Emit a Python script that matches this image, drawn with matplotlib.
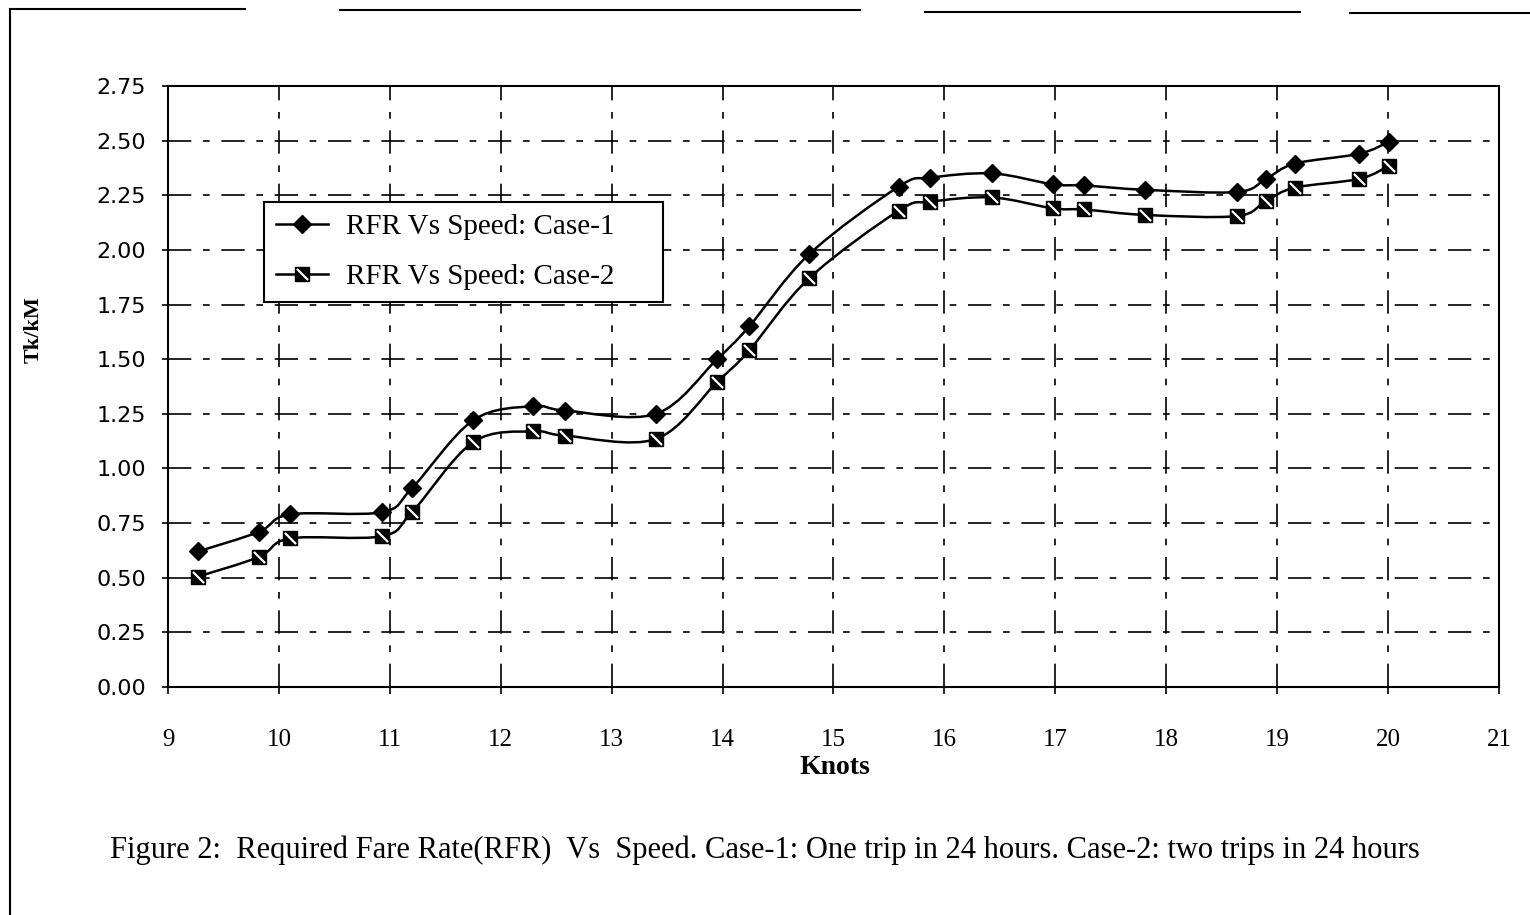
import numpy as np
import matplotlib
matplotlib.use("Agg")
import matplotlib.pyplot as plt
from matplotlib.path import Path
from matplotlib.patches import PathPatch
from matplotlib.lines import Line2D
from matplotlib.legend_handler import HandlerTuple

# Data
knots = [9.27, 9.82, 10.10, 10.93, 11.20, 11.75, 12.29, 12.58, 13.40, 13.95, 14.24,
         14.78, 15.59, 15.87, 16.43, 16.98, 17.26, 17.81, 18.64, 18.90, 19.16, 19.74, 20.01]
rfr_case1 = [0.62, 0.71, 0.79, 0.80, 0.91, 1.22, 1.285, 1.265, 1.25, 1.50, 1.65,
             1.98, 2.29, 2.33, 2.35, 2.30, 2.295, 2.275, 2.265, 2.325, 2.395, 2.44, 2.495]
rfr_case2 = [0.505, 0.595, 0.68, 0.69, 0.80, 1.12, 1.17, 1.15, 1.135, 1.395, 1.54,
             1.87, 2.18, 2.22, 2.24, 2.19, 2.185, 2.16, 2.155, 2.225, 2.285, 2.325, 2.385]
label_case1 = "RFR Vs Speed: Case-1"
label_case2 = "RFR Vs Speed: Case-2"
x_ticks = list(range(9, 22))
y_ticks = [0.00, 0.25, 0.50, 0.75, 1.00, 1.25, 1.50, 1.75, 2.00, 2.25, 2.50, 2.75]
caption = ("Figure 2:  Required Fare Rate(RFR)  Vs  Speed. Case-1: One trip in 24 hours. "
           "Case-2: two trips in 24 hours")

serif = "Liberation Serif"
sans = "DejaVu Sans"


def smooth_path(xs, ys):
    # Catmull-Rom through the points, written as cubic Bezier segments
    p = np.column_stack([xs, ys]).astype(float)
    ext = np.vstack([p[0], p, p[-1]])
    verts = [p[0]]
    codes = [Path.MOVETO]
    for i in range(1, len(ext) - 2):
        c1 = ext[i] + (ext[i + 1] - ext[i - 1]) / 6.0
        c2 = ext[i + 1] - (ext[i + 2] - ext[i]) / 6.0
        verts += [c1, c2, ext[i + 1]]
        codes += [Path.CURVE4] * 3
    return Path(verts, codes)


slash = Path([(-0.6, 0.6), (0.6, -0.6)], [Path.MOVETO, Path.LINETO])

fig = plt.figure(figsize=(15.3, 9.15), dpi=100)
ax = fig.add_axes([0.1098, 0.2492, 0.8699, 0.6568])

for ys in (rfr_case1, rfr_case2):
    ax.add_patch(PathPatch(smooth_path(knots, ys), facecolor="none",
                           edgecolor="black", lw=1.8, zorder=3))

ax.plot(knots, rfr_case1, ls="none", marker="D", ms=9, color="black", zorder=4)
ax.plot(knots, rfr_case2, ls="none", marker="s", ms=10, mfc="black", mec="black", zorder=4)
ax.plot(knots, rfr_case2, ls="none", marker=slash, ms=8, mec="white", mew=1.6, zorder=5)

ax.set_xlim(9, 21)
ax.set_ylim(0, 2.75)
ax.set_xticks(x_ticks)
ax.set_xticklabels([str(t) for t in x_ticks], fontfamily=serif, fontsize=18)
ax.set_yticks(y_ticks)
ax.set_yticklabels([f"{t:.2f}" for t in y_ticks], fontfamily=sans, fontsize=16)
ax.tick_params(axis="x", direction="out", length=5, width=1.2, pad=25)
ax.tick_params(axis="y", direction="out", length=4, width=1.2, pad=12)

ax.grid(True, color="black", lw=1.2, linestyle=(0, (14, 7, 4, 7)))
ax.set_axisbelow(True)
for s in ax.spines.values():
    s.set_color("black")
    s.set_linewidth(1.5)

fig.text(835 / 1530, 1 - 768 / 915, "Knots", fontfamily=serif, fontsize=20,
         fontweight="bold", ha="center", va="center")
fig.text(34 / 1530, 1 - 330 / 915, "Tk/kM", fontfamily=serif, fontsize=16,
         fontweight="bold", ha="center", va="center", rotation=90)

# legend
h1 = Line2D([], [], color="black", lw=1.8, marker="D", ms=9)
h2a = Line2D([], [], color="black", lw=1.8, marker="s", ms=10)
h2b = Line2D([], [], ls="none", marker=slash, ms=8, mec="white", mew=1.6)
leg = fig.legend([h1, (h2a, h2b)], [label_case1, label_case2],
                 handler_map={tuple: HandlerTuple(ndivide=1, pad=0)},
                 loc="upper left", mode="expand", borderaxespad=0,
                 bbox_to_anchor=(264 / 1530, 1 - 305 / 915, 399 / 1530, 103 / 915),
                 prop={"family": serif, "size": 21}, frameon=True, fancybox=False,
                 edgecolor="black", framealpha=1, handlelength=1.8,
                 borderpad=0.4, labelspacing=0.8, handletextpad=0.6)
leg.get_frame().set_linewidth(1.5)

fig.text(765 / 1530, 1 - 850 / 915, caption, fontfamily=serif, fontsize=22,
         ha="center", va="center")

# page border from the scan
fig.add_artist(Line2D([10 / 1530, 10 / 1530], [0, 1 - 10 / 915], color="black", lw=1.5))
fig.add_artist(Line2D([10 / 1530, 245 / 1530], [1 - 9 / 915, 1 - 9 / 915], color="black", lw=1.5))
fig.add_artist(Line2D([340 / 1530, 860 / 1530], [1 - 10 / 915, 1 - 10 / 915], color="black", lw=1.5))
fig.add_artist(Line2D([925 / 1530, 1300 / 1530], [1 - 12 / 915, 1 - 12 / 915], color="black", lw=1.5))
fig.add_artist(Line2D([1350 / 1530, 1.0], [1 - 13 / 915, 1 - 13 / 915], color="black", lw=1.5))

fig.savefig("out.png", dpi=100, facecolor="white")
